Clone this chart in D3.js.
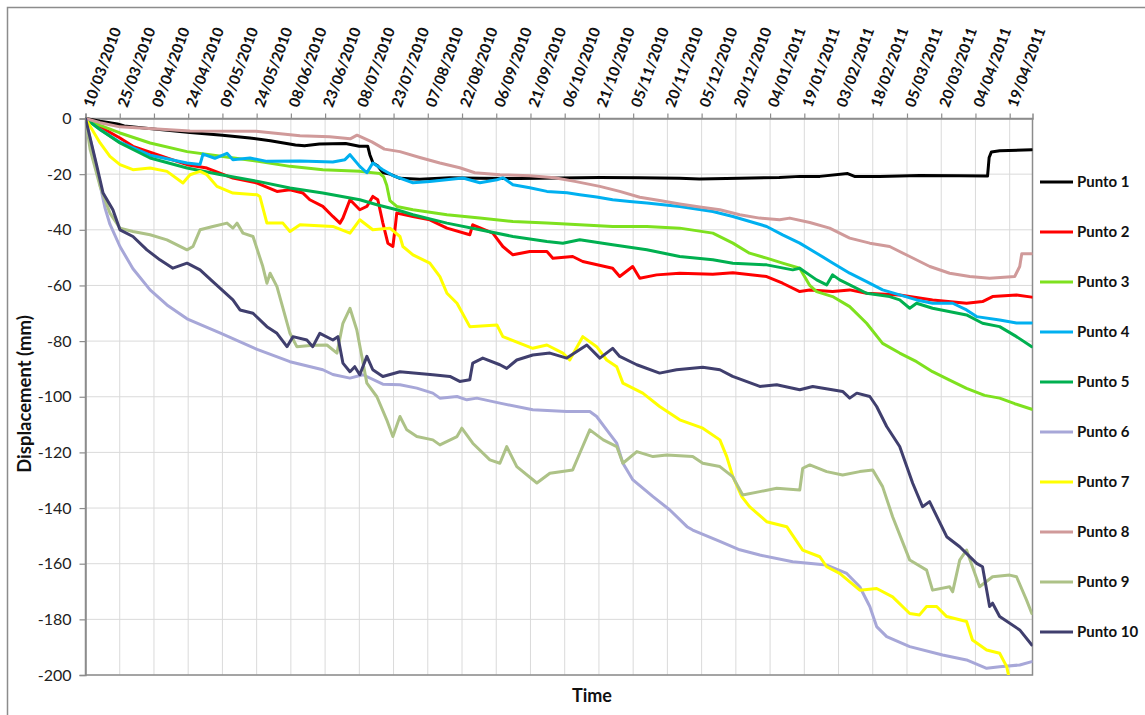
<!DOCTYPE html>
<html>
<head>
<meta charset="utf-8">
<script src="https://cdn.jsdelivr.net/npm/d3@7"></script>
<style>
  html, body { margin: 0; padding: 0; background: #fff; }
  svg { display: block; font-family: Lato, "Open Sans", "Liberation Sans", sans-serif; }
</style>
</head>
<body>
<svg id="chart" width="1145" height="715"></svg>
<script>
// Survey start date; every series below is stored as [days since start, displacement mm]
const startDate = "2010-03-10";
const endDay = 415;
const xTickStepDays = 15;
const yTicks = [0, -20, -40, -60, -80, -100, -120, -140, -160, -180, -200];

const seriesNames = ["Punto 1", "Punto 2", "Punto 3", "Punto 4", "Punto 5",
                     "Punto 6", "Punto 7", "Punto 8", "Punto 9", "Punto 10"];
const seriesColors = ["#000000", "#ff0000", "#7ee11f", "#00b0f0", "#00b050",
                      "#a7a7d8", "#ffff00", "#d09a9a", "#adc287", "#403f6e"];

const p1 = [[0,0],[6.4,-1],[14,-2],[17,-2.7],[32.6,-4],[45.8,-5],[60,-6],[72,-7],[81,-8],[92,-9.5],
  [96,-9.8],[102.5,-9.2],[114,-9],[120,-10],[123.7,-10],[124.6,-13],[126,-16],[128,-17],[130.4,-19.5],
  [133.4,-20],[137.8,-21.5],[146.5,-21.8],[159.7,-21.3],[172.8,-21.5],[190,-21.6],[207.8,-21.4],
  [225.4,-21.2],[242.9,-21.3],[260.4,-21.5],[269,-21.7],[286.6,-21.5],[304,-21.2],[313,-20.8],
  [321.8,-20.8],[334,-19.8],[337,-20.8],[348,-20.8],[365.5,-20.5],[383,-20.6],[395.3,-20.7],
  [396,-14],[397,-12],[400.6,-11.6],[414.7,-11.2]];

const p2 = [[0,0],[6.4,-3],[15.1,-7],[20.8,-10],[35.7,-14.2],[44.5,-16.6],[53.2,-17.8],[64.6,-21.4],
  [75.2,-23.2],[83.9,-26.2],[89.6,-25.6],[95.3,-26.8],[98.3,-29.2],[104,-31.6],[108.4,-35.2],
  [111.5,-37.6],[112.8,-35.8],[115.9,-29.2],[120.2,-32.8],[123.3,-31.6],[125.9,-28],[128.1,-29.2],
  [130.3,-37.5],[132.5,-44.8],[134.7,-46],[135.6,-40],[136.4,-34],[143.5,-35.2],[150.9,-36.4],
  [158.4,-39.4],[168.4,-41.8],[169.7,-38.2],[178.5,-41.2],[182.9,-46],[187.3,-49],[194.7,-47.8],
  [202.2,-47.8],[204.8,-50.2],[213.5,-49.6],[217.9,-51.4],[231,-53.8],[234.1,-56.8],[239.8,-53.2],
  [242.9,-57.4],[250.3,-56.2],[260.4,-55.6],[274.9,-56],[283.7,-55.4],[298.5,-56.8],[305.5,-59.2],
  [313,-62.2],[317.4,-61.6],[327.4,-62.2],[334.9,-61.6],[342.3,-62.8],[356.8,-63.4],[371.2,-65.2],
  [386.1,-66.4],[393.1,-65.8],[397.5,-64],[408,-63.4],[414.7,-64.2]];

const p3 = [[0,0],[6.4,-2.5],[15.1,-5.2],[28.3,-8.8],[44.5,-11.9],[59.4,-13.6],[75.6,-15.4],
  [89.6,-17.2],[104,-18.4],[120.2,-19],[129,-19.8],[130.7,-21],[132,-24],[133.4,-29.5],[136.4,-31.6],
  [143.5,-32.8],[158.4,-34.6],[172.8,-35.8],[187.3,-37],[202.2,-37.6],[216.6,-38.2],[231,-38.8],
  [246,-38.8],[260.4,-39.4],[274.9,-41.2],[283.7,-44.8],[291,-48.4],[298.5,-50.2],[305.5,-52],
  [313,-53.8],[317.4,-60],[320.4,-62.2],[327.4,-64],[334.9,-67.6],[342.3,-73.6],[349.3,-80.8],
  [356.8,-84.3],[364.2,-87.4],[371.2,-91],[378.7,-94],[386.1,-97],[394,-99.5],[400.6,-100.5],
  [407.2,-102.5],[414.7,-104.5]];

const p4 = [[0,0],[6.4,-4],[15.1,-8.5],[28.3,-13.2],[44.5,-16],[50.2,-16.5],[51.5,-12.8],[56.7,-14.3],
  [62,-12.5],[64.6,-14.8],[72.1,-14.2],[79.5,-15.4],[94,-15.3],[108.4,-15.6],[113.7,-14.8],[115.9,-13],
  [120.2,-17.2],[123.3,-19.5],[125.9,-16],[130.3,-18.4],[134.7,-20.5],[143.5,-23.1],[150.9,-22.6],
  [165.4,-21.4],[172.8,-23.1],[180.3,-22],[183,-21.3],[187.3,-23.8],[194.7,-24.9],[202.2,-26.2],
  [211,-26.7],[216.6,-27.4],[224,-28.2],[231,-29.2],[238.5,-29.8],[246,-30.4],[260.4,-31.6],
  [274.9,-33.4],[283.7,-35.2],[298.5,-38.8],[305.5,-41.8],[313,-44.8],[320.4,-48.4],[327.4,-51.9],
  [334.9,-55.6],[342.3,-58.6],[349.3,-61.6],[356.8,-63.4],[364.2,-65.2],[371.2,-66.4],[380,-66.4],
  [386.1,-68.8],[390.5,-71.2],[400.6,-72.4],[408,-73.5],[414.7,-73.5]];

const p5 = [[0,0],[6.4,-4],[15.1,-8.8],[28.3,-14.2],[44.5,-17.8],[59.4,-20.2],[75.6,-22.6],[89.6,-25],
  [104,-26.8],[120.2,-29.2],[127.7,-31],[136.4,-32.8],[143.5,-34.6],[158.4,-37.6],[172.8,-40],
  [187.3,-42.4],[202.2,-44.2],[209.2,-44.8],[216.6,-43.6],[231,-45.4],[246,-47.2],[260.4,-49.6],
  [274.9,-50.8],[283.7,-52],[298.5,-52.6],[309.9,-54.4],[313,-53.8],[320.4,-58],[324.8,-59.8],
  [327.4,-56.2],[330.5,-58],[342.3,-62.8],[352.4,-64],[356.8,-65.2],[361.2,-68.2],[364.2,-66.4],
  [371.2,-68.2],[386.1,-70.6],[393.1,-73.6],[400.6,-74.8],[408,-78.4],[414.7,-82]];

const p6 = [[0,0],[4.2,-15],[6.4,-24],[8.5,-32],[10.7,-38],[15.1,-46],[20.8,-54],[28.3,-61.6],
  [35.7,-67],[44.5,-72],[59.4,-77.2],[75.2,-83],[89.6,-87.4],[104,-90.3],[108.4,-92],[115.9,-93.3],
  [121.6,-92.1],[130.3,-95.5],[137.8,-95.7],[145.2,-96.9],[152.2,-98.7],[155.3,-100.5],[162.8,-99.9],
  [167.1,-101.1],[171.5,-100.5],[181.6,-102.3],[196,-104.7],[210.9,-105.3],[221,-105.3],[224,-107.1],
  [228.4,-111.9],[232.8,-116.7],[235.5,-123.9],[239.9,-129.9],[248.7,-135.9],[256.1,-140.7],
  [263.6,-146.7],[266.1,-147.9],[278,-152],[286.7,-155],[295.5,-156.9],[309.9,-159.3],[324.8,-160.5],
  [333.6,-163.5],[339.3,-168.3],[343.7,-175.4],[346.7,-182.6],[351.1,-186.2],[361.2,-189.8],
  [375.6,-192.8],[386.1,-194.6],[394.9,-197.6],[400.6,-197],[409.4,-196.4],[414.7,-195.2]];

const p7 = [[0,0],[6.4,-8.8],[10.7,-13.6],[15.1,-16.6],[20.8,-18.4],[28.3,-17.8],[35.7,-19],
  [42.7,-23.2],[45.8,-20.2],[50.2,-19],[53.2,-20.2],[57.6,-24.4],[64.6,-26.8],[75.2,-27.4],[76.4,-28],
  [79.5,-37.6],[86.5,-37.6],[89.6,-40.6],[94,-38.2],[108.4,-38.8],[115.9,-41.2],[120.2,-36.4],
  [125.9,-40],[133.4,-39.4],[137.8,-42.4],[139.1,-46],[143.5,-49],[150.9,-52],[155.3,-56.8],
  [158.4,-62.8],[162.8,-66.4],[168.4,-74.8],[180.3,-74.2],[182.9,-78.4],[196,-82.6],[202.2,-81.4],
  [209.2,-84.3],[212.2,-86.8],[217.9,-78.4],[224,-82],[228.4,-86.8],[232.8,-89.2],[235.5,-95.1],
  [244.2,-98.7],[251.6,-103.5],[260.4,-108.3],[270.5,-111.3],[278,-115.5],[281,-121.5],[283.7,-128.7],
  [287.6,-135.9],[291,-139.5],[298.5,-144.9],[307.3,-146.7],[314.3,-155.1],[321.8,-157.5],
  [324.8,-161.1],[330.5,-163.5],[339.3,-169.5],[346.7,-168.9],[353.7,-171.9],[361.2,-177.9],
  [365.5,-178.4],[368.6,-175.4],[373,-175.4],[377.4,-179],[386.1,-180.8],[388.7,-187.4],[394.9,-191],
  [400.6,-192.2],[403.7,-197],[405,-202]];

const p8 = [[0,0],[6.4,-1.5],[15.1,-3],[45.8,-4.5],[74.7,-4.6],[94,-6.2],[107,-6.6],[116,-7.3],
  [119,-6],[125.5,-8.4],[131,-11],[137.8,-11.9],[146.5,-14],[155.3,-16],[164,-17.7],[170.6,-19.5],
  [181.6,-20.2],[194.7,-20.6],[205.6,-21.3],[214.4,-22.6],[225.4,-24.4],[234.1,-26.2],[242.9,-28.3],
  [251.6,-29.5],[260.4,-30.7],[269.2,-31.8],[278,-32.8],[286.7,-34.6],[295.4,-35.8],[304.2,-36.4],
  [308.6,-35.8],[317.4,-37.4],[326.1,-39.4],[334.9,-43],[343.7,-44.8],[352.4,-46],[361.2,-49.6],
  [370,-53.2],[378.7,-55.6],[387.5,-56.8],[396.2,-57.4],[407.2,-56.8],[409.4,-53.2],[410.3,-48.6],
  [414.7,-48.6]];

const p9 = [[0,0],[2,-11],[6.4,-24.4],[10.7,-34],[15.1,-39.4],[20.8,-40.6],[28.3,-41.8],[35.7,-43.6],
  [44.5,-47.2],[47.1,-46],[50.2,-40],[55.8,-38.8],[62,-37.6],[64.6,-39.4],[66.4,-37.6],[69,-41.2],
  [73.4,-42.4],[77.7,-53.2],[79.5,-59.2],[80.9,-55.6],[83.9,-60.4],[89.6,-77.2],[92.6,-82],
  [99.6,-81.5],[105.8,-81.4],[110.2,-84.3],[112.8,-73.6],[115.9,-68.2],[118.9,-76],[123.3,-95.1],
  [127.7,-100],[132,-108.3],[134.7,-114.3],[137.8,-107.1],[140.8,-111.9],[145.2,-114.3],[152.2,-115.5],
  [155.3,-117.3],[162.8,-114.3],[164.9,-111.3],[169.7,-116.7],[177.2,-122.7],[181.6,-123.9],
  [184.6,-117.9],[189,-125.1],[197.8,-131],[203.5,-127.5],[213.5,-126.3],[216.6,-120.3],[221,-111.9],
  [226.9,-115.5],[232.8,-117.9],[235.5,-123.9],[241.6,-119.7],[248.7,-121.5],[254.7,-120.9],
  [266.1,-121.5],[270.5,-123.9],[278,-125.1],[283.6,-128.7],[288,-135.3],[295.5,-134.1],[302.9,-132.9],
  [313,-133.5],[314.3,-125.7],[317.4,-124.5],[324.8,-126.9],[331.8,-128.1],[339.3,-126.9],[345,-126.3],
  [349.3,-132.3],[353.7,-143.1],[361.2,-158.7],[368.6,-162.3],[371.2,-169.5],[378.7,-168.3],
  [380,-170.1],[383.1,-158.7],[386.1,-155.1],[388.7,-161.1],[391.8,-168.3],[397.5,-164.7],
  [405,-164.1],[408,-164.7],[412.4,-173.1],[414.7,-177.9]];

const p10 = [[0,0],[5,-17.2],[7.7,-26.8],[12,-32.8],[15.1,-40],[20.8,-42.4],[26.9,-47.2],[32.6,-50.8],
  [38.3,-53.8],[44.5,-52],[50.2,-54.4],[55.8,-58.6],[64.6,-65.2],[67.7,-68.8],[73.4,-70],[79.5,-74.8],
  [83.9,-77.2],[88.3,-82],[90.9,-78.4],[97,-79.6],[99.6,-82],[102.7,-77.2],[108.4,-79.6],[110.6,-78.4],
  [112.8,-87.9],[115.9,-91],[118,-89.2],[120.2,-92.1],[123.3,-85.5],[125.9,-90.3],[130.3,-92.7],
  [137.8,-91],[152.2,-92.1],[159.7,-92.7],[164,-94.5],[168.4,-93.9],[169.7,-87.9],[174.1,-86.1],
  [181.6,-88.5],[184.6,-89.8],[189,-86.8],[196,-85],[203.5,-84.3],[210.9,-86.1],[219.7,-81.4],
  [225.4,-86.1],[231,-82.6],[234.1,-85.5],[241.6,-88.5],[251.6,-91.5],[259,-90.3],[270.5,-89.4],
  [278,-90.3],[283.6,-92.7],[295.5,-96.3],[302.9,-95.7],[313,-97.5],[318.7,-96.3],[331.8,-98.1],
  [334.9,-100.5],[338,-98.7],[343.7,-99.9],[346.7,-103.5],[351.1,-110.7],[356.8,-117.9],[362.5,-131.1],
  [366.8,-139.5],[369.9,-137.7],[377.4,-150.3],[383.1,-153.9],[390.5,-159.9],[393.1,-161.1],
  [396.2,-175.4],[397.5,-174.2],[400.6,-179],[409.4,-183.8],[414.7,-189.2]];

const seriesData = [p1, p2, p3, p4, p5, p6, p7, p8, p9, p10];

// ---- layout ----
const svg = d3.select("#chart");
const plot = { left: 85.5, right: 1032.5, top: 118.5, bottom: 675 };
const DAY = 864e5;
const t0 = new Date(startDate + "T00:00:00Z");
const toDate = d => new Date(t0.getTime() + d * DAY);

const x = d3.scaleUtc().domain([t0, toDate(endDay)]).range([plot.left, plot.right]);
const y = d3.scaleLinear().domain([-200, 0]).range([plot.bottom, plot.top]);

// outer chart frame
svg.append("rect").attr("x", 7.5).attr("y", 7.5).attr("width", 1145).attr("height", 715)
  .attr("fill", "#fff").attr("stroke", "#8c8c8c").attr("stroke-width", 1.5);

const xTickDates = d3.range(0, endDay, xTickStepDays).map(toDate);
const fmt = d3.utcFormat("%d/%m/%Y");

// gridlines
const grid = svg.append("g");
grid.selectAll("line.v").data(xTickDates).join("line")
  .attr("x1", d => x(d)).attr("x2", d => x(d))
  .attr("y1", plot.top).attr("y2", plot.bottom)
  .attr("stroke", "#dadada").attr("stroke-width", 1);
grid.selectAll("line.h").data(yTicks).join("line")
  .attr("x1", plot.left).attr("x2", plot.right)
  .attr("y1", d => y(d)).attr("y2", d => y(d))
  .attr("stroke", "#dadada").attr("stroke-width", 1);

// plot area border
svg.append("rect").attr("x", plot.left).attr("y", plot.top)
  .attr("width", plot.right - plot.left).attr("height", plot.bottom - plot.top)
  .attr("fill", "none").attr("stroke", "#8c8c8c").attr("stroke-width", 1.5);

// y axis
const yAxis = svg.append("g").attr("transform", `translate(${plot.left},0)`)
  .call(d3.axisLeft(y).tickValues(yTicks).tickSize(6).tickPadding(8).tickFormat(d3.format("d")));
yAxis.select(".domain").attr("stroke", "#8c8c8c").attr("stroke-width", 1.5);
yAxis.selectAll(".tick line").attr("stroke", "#8c8c8c").attr("stroke-width", 1.2);
yAxis.selectAll(".tick text").attr("font-size", 16).attr("fill", "#222")
  .attr("font-family", "Lato, 'Open Sans', sans-serif").text(d => d === 0 ? "0" : "-" + Math.abs(d));

// x axis along the top (zero line), with steep rotated date labels
const xAxis = svg.append("g").attr("transform", `translate(0,${plot.top})`)
  .call(d3.axisTop(x).tickValues(xTickDates).tickSize(5).tickFormat(fmt));
xAxis.select(".domain").attr("stroke", "#8c8c8c").attr("stroke-width", 1.5);
xAxis.selectAll(".tick line").attr("stroke", "#8c8c8c").attr("stroke-width", 1.2);
xAxis.selectAll(".tick text")
  .attr("font-size", 15).attr("font-weight", "bold").attr("fill", "#111")
  .attr("font-family", "Lato, 'Open Sans', sans-serif")
  .attr("text-anchor", "start")
  .attr("x", 0).attr("y", 0).attr("dy", "0.35em")
  .attr("transform", "translate(2,-12) rotate(-70)");

// series lines
svg.append("clipPath").attr("id", "plotClip").append("rect")
  .attr("x", plot.left).attr("y", plot.top - 2)
  .attr("width", plot.right - plot.left).attr("height", plot.bottom - plot.top + 2);

const line = d3.line().x(d => x(toDate(d[0]))).y(d => y(d[1])).curve(d3.curveLinear);
const lines = svg.append("g").attr("clip-path", "url(#plotClip)");
seriesData.forEach((data, i) => {
  lines.append("path").datum(data)
    .attr("d", line)
    .attr("fill", "none")
    .attr("stroke", seriesColors[i])
    .attr("stroke-width", 3)
    .attr("stroke-linejoin", "round")
    .attr("stroke-linecap", "round");
});

// legend
const legend = svg.append("g").attr("transform", "translate(1040,182)");
seriesNames.forEach((name, i) => {
  const g = legend.append("g").attr("transform", `translate(0,${i * 50})`);
  g.append("line").attr("x1", 0).attr("x2", 33).attr("y1", 0).attr("y2", 0)
    .attr("stroke", seriesColors[i]).attr("stroke-width", 3);
  g.append("text").attr("x", 37).attr("y", 0).attr("dy", "0.35em")
    .attr("font-size", 15).attr("font-weight", "bold").attr("fill", "#111")
    .text(name);
});

// axis titles
svg.append("text").attr("transform", "translate(25,394) rotate(-90)")
  .attr("text-anchor", "middle").attr("dy", "0.35em")
  .attr("font-size", 18.5).attr("font-weight", "bold").attr("fill", "#111")
  .text("Displacement (mm)");
svg.append("text").attr("x", 592).attr("y", 696).attr("text-anchor", "middle").attr("dy", "0.35em")
  .attr("font-size", 18).attr("font-weight", "bold").attr("fill", "#111")
  .text("Time");
</script>
</body>
</html>
